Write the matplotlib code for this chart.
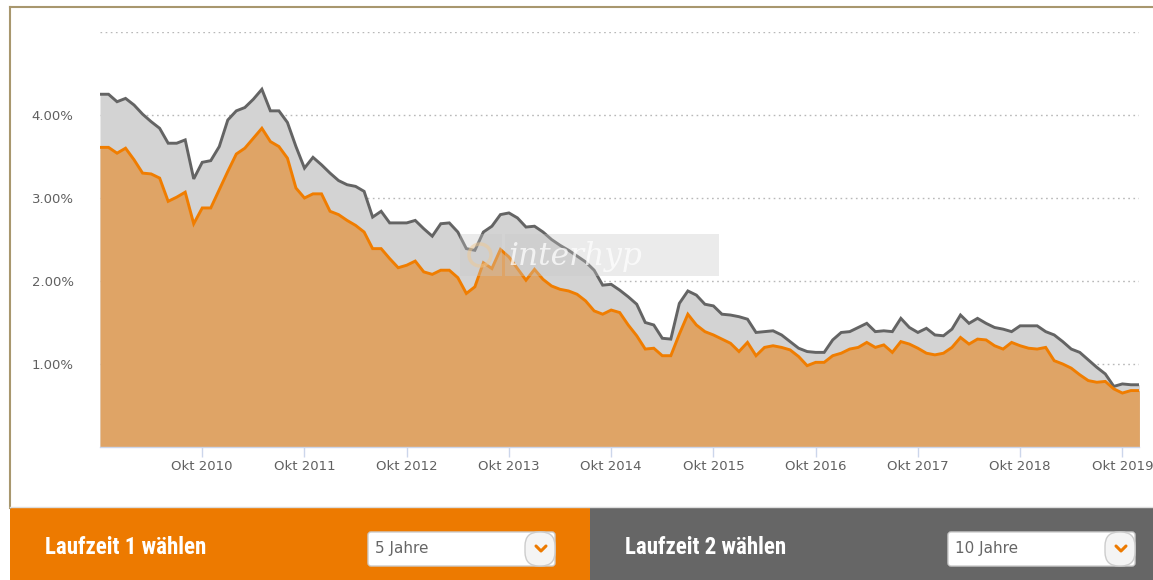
import matplotlib
matplotlib.use("Agg")
import matplotlib.pyplot as plt
from matplotlib.patches import Rectangle, FancyBboxPatch, Circle
import numpy as np
import pandas as pd

# ---------------- data ----------------
months = pd.date_range("2009-10-01", periods=123, freq="MS")

rate_10y = [4.25, 4.25, 4.16, 4.20, 4.12, 4.01, 3.92, 3.84, 3.66, 3.66,
            3.70, 3.23, 3.43, 3.45, 3.62, 3.94, 4.05, 4.09, 4.19, 4.31,
            4.05, 4.05, 3.91, 3.62, 3.36, 3.49, 3.40, 3.30, 3.21, 3.16,
            3.14, 3.08, 2.77, 2.84, 2.70, 2.70, 2.70, 2.73, 2.63, 2.54,
            2.69, 2.70, 2.59, 2.39, 2.37, 2.59, 2.66, 2.80, 2.82, 2.76,
            2.65, 2.66, 2.59, 2.50, 2.43, 2.37, 2.30, 2.23, 2.13, 1.95,
            1.96, 1.89, 1.81, 1.72, 1.50, 1.47, 1.31, 1.30, 1.73, 1.88,
            1.83, 1.72, 1.70, 1.60, 1.59, 1.57, 1.54, 1.38, 1.39, 1.40,
            1.35, 1.27, 1.19, 1.15, 1.14, 1.14, 1.29, 1.38, 1.39, 1.44,
            1.49, 1.39, 1.40, 1.39, 1.55, 1.44, 1.38, 1.43, 1.35, 1.34,
            1.42, 1.59, 1.49, 1.55, 1.49, 1.44, 1.42, 1.39, 1.46, 1.46,
            1.46, 1.39, 1.35, 1.27, 1.18, 1.14, 1.05, 0.96, 0.88, 0.73,
            0.76, 0.75, 0.75]

rate_5y = [3.61, 3.61, 3.54, 3.60, 3.46, 3.30, 3.29, 3.24, 2.96, 3.01,
           3.07, 2.69, 2.88, 2.88, 3.10, 3.32, 3.53, 3.60, 3.72, 3.84,
           3.68, 3.62, 3.48, 3.12, 3.00, 3.05, 3.05, 2.84, 2.80, 2.73,
           2.67, 2.59, 2.39, 2.39, 2.27, 2.16, 2.19, 2.24, 2.11, 2.08,
           2.13, 2.13, 2.04, 1.85, 1.93, 2.22, 2.15, 2.38, 2.29, 2.15,
           2.01, 2.14, 2.02, 1.94, 1.90, 1.88, 1.84, 1.76, 1.64, 1.60,
           1.65, 1.62, 1.47, 1.34, 1.18, 1.19, 1.10, 1.10, 1.36, 1.60,
           1.47, 1.39, 1.35, 1.30, 1.25, 1.15, 1.26, 1.10, 1.20, 1.22,
           1.20, 1.17, 1.09, 0.98, 1.02, 1.02, 1.10, 1.13, 1.18, 1.20,
           1.26, 1.20, 1.23, 1.14, 1.27, 1.24, 1.19, 1.13, 1.11, 1.13,
           1.20, 1.32, 1.24, 1.30, 1.29, 1.22, 1.18, 1.26, 1.22, 1.19,
           1.18, 1.20, 1.04, 1.00, 0.95, 0.87, 0.80, 0.78, 0.79, 0.70,
           0.65, 0.68, 0.68]

y_ticks = [1, 2, 3, 4]
y_labels = ["1.00%", "2.00%", "3.00%", "4.00%"]
x_tick_labels = ["Okt 2010", "Okt 2011", "Okt 2012", "Okt 2013", "Okt 2014",
                 "Okt 2015", "Okt 2016", "Okt 2017", "Okt 2018", "Okt 2019"]

panel1_title = "Laufzeit 1 wählen"
panel2_title = "Laufzeit 2 wählen"
panel1_choice = "5 Jahre"
panel2_choice = "10 Jahre"
watermark = "interhyp"

# ---------------- figure ----------------
W, H = 1153, 580
fig = plt.figure(figsize=(W / 100, H / 100), dpi=100)
fig.patch.set_facecolor("white")

# overlay for decoration in pixel coords
deco = fig.add_axes([0, 0, 1, 1], zorder=0)
deco.set_xlim(0, W)
deco.set_ylim(H, 0)
deco.axis("off")

# main chart axes
x = np.arange(len(months))
left_px, right_px = 100, 1139.4
top_px, bottom_px = 32, 447
ax = fig.add_axes([left_px / W, (H - bottom_px) / H,
                   (right_px - left_px) / W, (bottom_px - top_px) / H], zorder=2)
ax.patch.set_alpha(0)
ax.set_xlim(x[0], x[-1])
ax.set_ylim(0, 5)

orange_line = "#f07d00"
orange_fill = "#dfa466"
gray_line = "#646464"
gray_fill = "#d3d3d3"

for gy in [1, 2, 3, 4, 5]:
    ax.axhline(gy, color="#b8b8b8", lw=1.0, ls=(0, (1.2, 2.5)), zorder=0.5)

ax.fill_between(x, 0, rate_10y, color=gray_fill, lw=0, zorder=1)
ax.fill_between(x, 0, rate_5y, color=orange_fill, lw=0, zorder=2)
ax.plot(x, rate_10y, color=gray_line, lw=2.1, zorder=3, solid_joinstyle="miter")
ax.plot(x, rate_5y, color=orange_line, lw=2.1, zorder=4, solid_joinstyle="miter")

for s in ["top", "right", "left"]:
    ax.spines[s].set_visible(False)
ax.spines["bottom"].set_color("#ccd6eb")
ax.spines["bottom"].set_linewidth(1.0)

tick_pos = [i for i, d in enumerate(months) if d.month == 10 and d.year >= 2010]
ax.set_xticks(tick_pos)
ax.set_xticklabels(x_tick_labels)
ax.tick_params(axis="x", length=7.5, width=1.0, color="#ccd6eb", pad=2,
               labelsize=9.5, labelcolor="#606060")
ax.set_yticks(y_ticks)
ax.set_yticklabels(y_labels)
ax.tick_params(axis="y", length=0, pad=19, labelsize=9.5, labelcolor="#606060")

# watermark
deco_wm = fig.add_axes([0, 0, 1, 1], zorder=3)
deco_wm.set_xlim(0, W)
deco_wm.set_ylim(H, 0)
deco_wm.axis("off")
deco_wm.add_patch(Rectangle((460, 234), 42, 42, color="#c8c8c8", alpha=0.35, lw=0))
deco_wm.add_patch(Rectangle((505, 234), 214, 42, color="#c8c8c8", alpha=0.35, lw=0))
deco_wm.add_patch(Circle((480, 255), 11, fill=False, ec="#f0c890", lw=2.5, alpha=0.5))
deco_wm.text(508, 256, watermark, family="DejaVu Serif", style="italic",
             fontsize=22.5, color="white", alpha=0.75, va="center", ha="left")

# frame
deco.plot([10, 10], [7, 508], color="#a8976e", lw=1.5)
deco.plot([10, W], [7, 7], color="#a8976e", lw=1.5)
deco.plot([10, W], [507, 507], color="#dddddd", lw=1.0)

# bottom panels
deco.add_patch(Rectangle((10, 508), 580, 72, color="#ed7a00", lw=0))
deco.add_patch(Rectangle((590, 508), W - 590, 72, color="#666666", lw=0))

title_font = ["Roboto Condensed", "Liberation Sans Narrow", "Roboto", "DejaVu Sans"]
deco.text(45, 547, panel1_title, family=title_font, fontweight="bold",
          fontsize=16.5, color="white", va="center", ha="left")
deco.text(625, 547, panel2_title, family=title_font, fontweight="bold",
          fontsize=16.5, color="white", va="center", ha="left")


def dropdown(x0, x1, label):
    deco.add_patch(FancyBboxPatch((x0, 532), x1 - x0, 34,
                                  boxstyle="round,pad=0,rounding_size=3",
                                  fc="white", ec="#cccccc", lw=1.0))
    deco.add_patch(FancyBboxPatch((x1 - 30, 532), 30, 34,
                                  boxstyle="round,pad=0,rounding_size=14",
                                  fc="#f4f4f4", ec="#cccccc", lw=1.0))
    cx = x1 - 14
    deco.plot([cx - 5, cx, cx + 5], [546, 551, 546], color="#ed7a00", lw=2.2,
              solid_capstyle="round")
    deco.text(x0 + 7, 549, label, family="DejaVu Sans", fontsize=11,
              color="#666666", va="center", ha="left")


dropdown(368, 555, panel1_choice)
dropdown(948, 1135, panel2_choice)

fig.savefig("out.png", dpi=100)
